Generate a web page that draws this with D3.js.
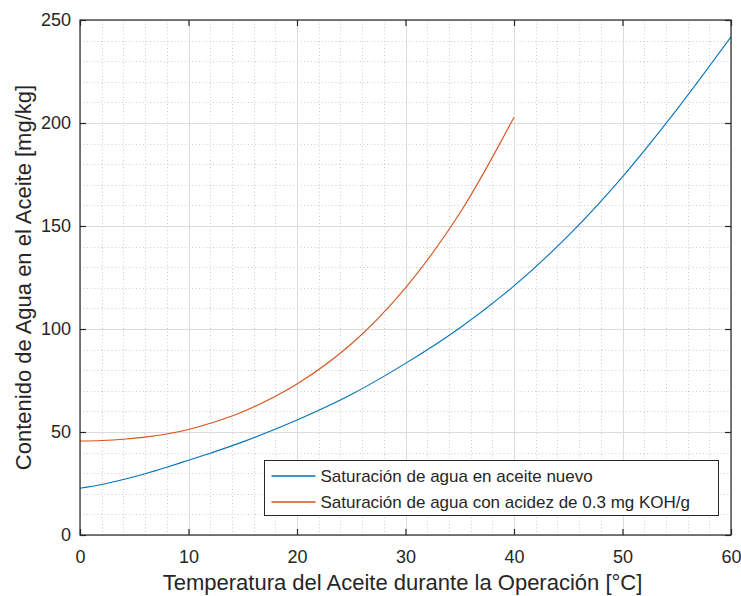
<!DOCTYPE html>
<html>
<head>
<meta charset="utf-8">
<script src="https://cdn.jsdelivr.net/npm/d3@7"></script>
<style>
  html, body { margin: 0; padding: 0; background: #fff; }
  svg { display: block; }
  text { font-family: "Liberation Sans", Arial, Helvetica, sans-serif; fill: #262626; }
</style>
</head>
<body>
<svg id="chart" width="741" height="596"></svg>
<script>
// Temperature (°C) and water saturation (mg/kg) for new oil
const tempNuevo = [0, 2, 4, 6, 8, 10, 12, 15, 20, 25, 30, 35, 40, 45, 50, 55, 60];
const aguaNuevo = [22.7, 24.5, 26.9, 29.7, 32.9, 36.3, 39.7, 45.2, 55.8, 68.2, 83.3, 100.5, 120.9, 145.3, 173.9, 206.5, 241.8];

// Same, for oil with acidity 0.3 mg KOH/g
const tempAcido = [0, 2, 4, 6, 8, 10, 12, 15, 20, 25, 30, 35, 40];
const aguaAcido = [45.6, 45.9, 46.5, 47.5, 49.0, 51.2, 54.2, 59.8, 73.3, 92.7, 120.0, 156.2, 202.8];

const xTicks = [0, 10, 20, 30, 40, 50, 60];
const yTicks = [0, 50, 100, 150, 200, 250];
const seriesNames = [
  "Saturación de agua en aceite nuevo",
  "Saturación de agua con acidez de 0.3 mg KOH/g"
];
const seriesColors = ["#0072BD", "#D95319"];

const svg = d3.select("#chart");
const mLeft = 80, mRight = 731, mTop = 20, mBottom = 535;

const x = d3.scaleLinear().domain([0, 60]).range([mLeft, mRight]);
const y = d3.scaleLinear().domain([0, 250]).range([mBottom, mTop]);
const px = v => Math.round(v) + 0.5;

const g = svg.append("g");

// minor grid (dotted)
const xMinor = d3.range(0, 61, 2).filter(v => v % 10 !== 0);
const yMinor = d3.range(0, 251, 10).filter(v => v % 50 !== 0);
g.selectAll(".xminor").data(xMinor).join("line")
  .attr("x1", d => px(x(d))).attr("x2", d => px(x(d)))
  .attr("y1", mTop).attr("y2", mBottom)
  .attr("stroke", "#cccccc").attr("stroke-width", 1).attr("stroke-dasharray", "1,2.5");
g.selectAll(".yminor").data(yMinor).join("line")
  .attr("y1", d => px(y(d))).attr("y2", d => px(y(d)))
  .attr("x1", mLeft).attr("x2", mRight)
  .attr("stroke", "#cccccc").attr("stroke-width", 1).attr("stroke-dasharray", "1,2.5");

// major grid
g.selectAll(".xmajor").data(xTicks).join("line")
  .attr("x1", d => px(x(d))).attr("x2", d => px(x(d)))
  .attr("y1", mTop).attr("y2", mBottom)
  .attr("stroke", "#dcdcdc").attr("stroke-width", 1);
g.selectAll(".ymajor").data(yTicks).join("line")
  .attr("y1", d => px(y(d))).attr("y2", d => px(y(d)))
  .attr("x1", mLeft).attr("x2", mRight)
  .attr("stroke", "#dcdcdc").attr("stroke-width", 1);

// curves
svg.append("clipPath").attr("id", "clip").append("rect")
  .attr("x", mLeft).attr("y", mTop).attr("width", mRight - mLeft).attr("height", mBottom - mTop);

const line = d3.line().x(d => x(d[0])).y(d => y(d[1])).curve(d3.curveCatmullRom.alpha(0.5));
const series = [
  d3.zip(tempNuevo, aguaNuevo),
  d3.zip(tempAcido, aguaAcido)
];
g.append("g").attr("clip-path", "url(#clip)")
  .selectAll("path").data(series).join("path")
  .attr("d", line)
  .attr("fill", "none")
  .attr("stroke", (d, i) => seriesColors[i])
  .attr("stroke-width", 1.1);

// axes: ticks inside on all four sides
const tickLen = 6;
const axisColor = "#262626";
const bottomAxis = d3.axisBottom(x).tickValues(xTicks).tickSize(-tickLen).tickPadding(15).tickFormat(d3.format("d"));
const leftAxis = d3.axisLeft(y).tickValues(yTicks).tickSize(-tickLen).tickPadding(9).tickFormat(d3.format("d"));
const topAxis = d3.axisTop(x).tickValues(xTicks).tickSize(-tickLen).tickFormat("");
const rightAxis = d3.axisRight(y).tickValues(yTicks).tickSize(-tickLen).tickFormat("");

function styleAxis(sel) {
  sel.select(".domain").remove();
  sel.selectAll(".tick line").attr("stroke", axisColor).attr("stroke-width", 1.2);
  sel.selectAll(".tick text").attr("fill", "#262626")
    .style("font-family", '"Liberation Sans", Arial, Helvetica, sans-serif')
    .style("font-size", "18px");
}

svg.append("g").attr("transform", `translate(0,${mBottom})`).call(bottomAxis).call(styleAxis);
svg.append("g").attr("transform", `translate(${mLeft},0)`).call(leftAxis).call(styleAxis);
svg.append("g").attr("transform", `translate(0,${mTop})`).call(topAxis).call(styleAxis);
svg.append("g").attr("transform", `translate(${mRight},0)`).call(rightAxis).call(styleAxis);

// axes box
svg.append("rect").attr("x", mLeft).attr("y", mTop)
  .attr("width", mRight - mLeft).attr("height", mBottom - mTop)
  .attr("fill", "none").attr("stroke", axisColor).attr("stroke-width", 1.2);

// axis titles
svg.append("text")
  .attr("x", (mLeft + mRight) / 2 - 3).attr("y", 590)
  .attr("text-anchor", "middle").style("font-size", "22px")
  .text("Temperatura del Aceite durante la Operación [°C]");
svg.append("text")
  .attr("transform", `translate(31,${(mTop + mBottom) / 2}) rotate(-90)`)
  .attr("text-anchor", "middle").style("font-size", "22px")
  .text("Contenido de Agua en el Aceite [mg/kg]");

// legend
const legX = 264.5, legY = 460.5, legW = 454, legH = 55;
const leg = svg.append("g");
leg.append("rect").attr("x", legX).attr("y", legY).attr("width", legW).attr("height", legH)
  .attr("fill", "#fff").attr("stroke", "#262626").attr("stroke-width", 1);
seriesNames.forEach((name, i) => {
  const cy = Math.round(legY + 15 + i * 26);
  leg.append("line").attr("x1", legX + 7).attr("x2", legX + 51)
    .attr("y1", cy).attr("y2", cy)
    .attr("stroke", seriesColors[i]).attr("stroke-width", 1.3);
  leg.append("text").attr("x", legX + 56).attr("y", cy + 6)
    .style("font-size", "17px").text(name);
});
</script>
</body>
</html>
